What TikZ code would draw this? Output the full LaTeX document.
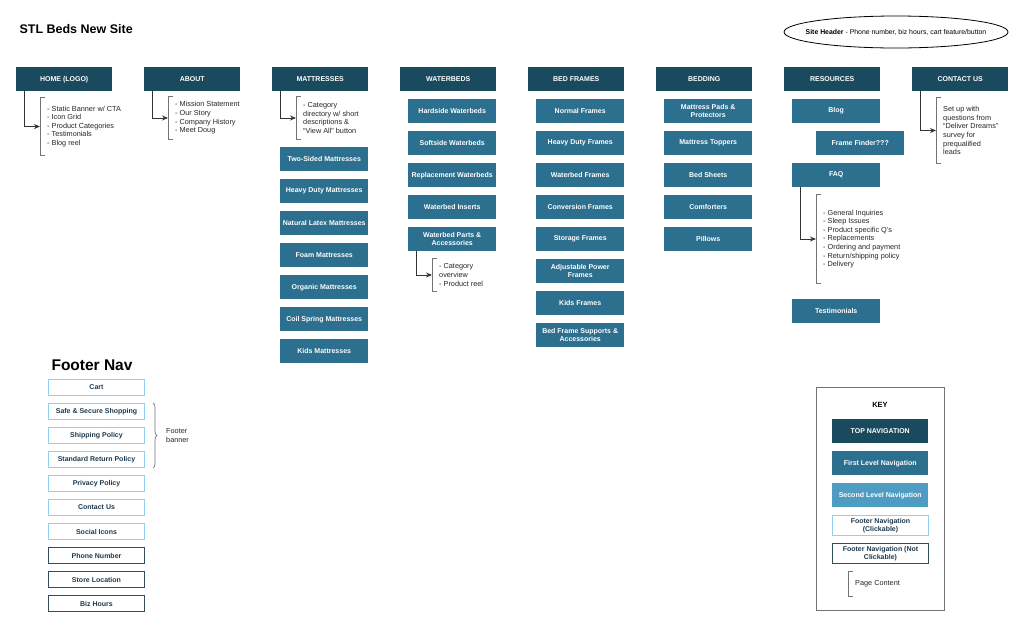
\documentclass[tikz,border=0pt]{standalone}
\usepackage{fontspec}
\setmainfont{Liberation Sans}
\usetikzlibrary{arrows.meta,positioning,shapes.geometric,decorations.pathreplacing}
\definecolor{topnav}{HTML}{1A4A5E}
\definecolor{firstnav}{HTML}{2C6F8E}
\definecolor{secondnav}{HTML}{4E9CC2}
\definecolor{footclick}{HTML}{8FD0EE}
\definecolor{footfix}{HTML}{2D4F5E}
\definecolor{foottext}{HTML}{1E3A4F}
\tikzset{
  box/.style={anchor=north west, inner sep=1pt, align=center, font=\fontsize{7}{8.2}\selectfont\bfseries},
  topbox/.style={box, fill=topnav, text=white, minimum width=96pt, minimum height=24pt},
  firstbox/.style={box, fill=firstnav, text=white, minimum width=88pt, minimum height=24pt},
  secondbox/.style={box, fill=secondnav, text=white, minimum width=96pt, minimum height=24pt},
  clickbox/.style={box, draw=footclick, line width=1pt, text=foottext, minimum width=96pt, minimum height=16pt},
  fixbox/.style={box, draw=footfix, line width=1pt, text=foottext, minimum width=96pt, minimum height=16pt},
  note/.style={anchor=west, align=left, inner xsep=7pt, inner ysep=0pt, font=\fontsize{7.3}{8.6}\selectfont, text=black!85},
  brk/.style={draw=black!55, line width=1pt},
  link/.style={draw=black!80, line width=0.9pt, -{Stealth[length=6pt,width=5pt]}},
}
\begin{document}
\begin{tikzpicture}[x=1pt,y=-1pt]
\useasboundingbox[fill=white] (0,0) rectangle (1024,627);
% Title and header
\node[anchor=west, font=\fontsize{12.5}{14}\selectfont\bfseries] (title) at (16,29) {STL Beds New Site};
\node[inner sep=0pt, font=\fontsize{6.9}{8}\selectfont] (header) at (896,32) {\textbf{Site Header} - Phone number, biz hours, cart feature/button};
\draw[line width=0.8pt] (header.center) ellipse [x radius=112, y radius=16];
% Top navigation
\foreach \t/\n [count=\i from 0] in {HOME (LOGO)/home, ABOUT/about, MATTRESSES/matt, WATERBEDS/water, BED FRAMES/frames, BEDDING/bedding, RESOURCES/res, CONTACT US/contact}
  \node[topbox] (\n) at ({16+128*\i},67) {\t};
% First level
\foreach \t [count=\i from 0] in {Two-Sided Mattresses, Heavy Duty Mattresses, Natural Latex Mattresses, Foam Mattresses, Organic Mattresses, Coil Spring Mattresses, Kids Mattresses}
  \node[firstbox] (matt\i) at (280,{147+32*\i}) {\t};
\foreach \t [count=\i from 0] in {Hardside Waterbeds, Softside Waterbeds, Replacement Waterbeds, Waterbed Inserts, {Waterbed Parts \&\\Accessories}}
  \node[firstbox] (water\i) at (408,{99+32*\i}) {\t};
\foreach \t [count=\i from 0] in {Normal Frames, Heavy Duty Frames, Waterbed Frames, Conversion Frames, Storage Frames, {Adjustable Power\\Frames}, Kids Frames, {Bed Frame Supports \&\\Accessories}}
  \node[firstbox] (frames\i) at (536,{99+32*\i}) {\t};
\foreach \t [count=\i from 0] in {{Mattress Pads \&\\Protectors}, Mattress Toppers, Bed Sheets, Comforters, Pillows}
  \node[firstbox] (bedding\i) at (664,{99+32*\i}) {\t};
\node[firstbox] (blog) at (792,99) {Blog};
\node[firstbox] (finder) at (816,131) {Frame Finder???};
\node[firstbox] (faq) at (792,163) {FAQ};
\node[firstbox] (testi) at (792,299) {Testimonials};
% Page content notes
\node[note, minimum height=57pt] (homeTxt) at (40,126.5) {- Static Banner w/ CTA\\- Icon Grid\\- Product Categories\\- Testimonials\\- Blog reel};
\node[note, minimum height=42pt] (aboutTxt) at (168,118) {- Mission Statement\\- Our Story\\- Company History\\- Meet Doug};
\node[note, minimum height=42pt] (mattTxt) at (296,118) {- Category\\directory w/ short\\descriptions \&\\``View All'' button};
\node[note, minimum height=32pt] (waterTxt) at (432,275) {- Category\\overview\\- Product reel};
\node[note, minimum height=88pt] (faqTxt) at (816,239) {- General Inquiries\\- Sleep Issues\\- Product specific Q's\\- Replacements\\- Ordering and payment\\- Return/shipping policy\\- Delivery};
\node[note, minimum height=65pt] (contactTxt) at (936,130.5) {Set up with\\questions from\\``Deliver Dreams''\\survey for\\prequalified\\leads};
\foreach \n in {homeTxt, aboutTxt, mattTxt, waterTxt, faqTxt, contactTxt}
  \draw[brk] ([xshift=5pt]\n.north west) -| (\n.south west) -- ++(5,0);
\draw[link] ([xshift=8pt]home.south west) |- (homeTxt.west);
\draw[link] ([xshift=8pt]about.south west) |- (aboutTxt.west);
\draw[link] ([xshift=8pt]matt.south west) |- (mattTxt.west);
\draw[link] ([xshift=8pt]water4.south west) |- (waterTxt.west);
\draw[link] ([xshift=8pt]faq.south west) |- (faqTxt.west);
\draw[link] ([xshift=8pt]contact.south west) |- (contactTxt.west);
% Footer nav
\node[anchor=west, font=\fontsize{15.5}{17}\selectfont\bfseries] (footer) at (48,365) {Footer Nav};
\foreach \t [count=\i from 0] in {Cart, Safe \& Secure Shopping, Shipping Policy, Standard Return Policy, Privacy Policy, Contact Us, Social Icons}
  \node[clickbox] (foot\i) at (48,{379+24*\i}) {\t};
\foreach \t [count=\i from 7] in {Phone Number, Store Location, Biz Hours}
  \node[fixbox] (foot\i) at (48,{379+24*\i}) {\t};
\draw[brk, line width=0.7pt, decorate, decoration={brace, amplitude=4pt}] ([xshift=8pt]foot1.north east) -- ([xshift=8pt]foot3.south east) coordinate[midway] (braceMid);
\node[note, inner xsep=0pt] (banner) at ([xshift=13pt]braceMid) {Footer\\banner};
% Key
\node[draw=black!55, line width=1pt, anchor=north west, minimum width=128pt, minimum height=223pt] (keyBox) at (816,387) {};
\node[font=\fontsize{7.5}{8.6}\selectfont\bfseries] (keyTitle) at (880,405) {KEY};
\node[topbox] (keyTop) at (832,419) {TOP NAVIGATION};
\node[secondbox, fill=firstnav] (keyFirst) at (832,451) {First Level Navigation};
\node[secondbox] (keySecond) at (832,483) {Second Level Navigation};
\node[clickbox, minimum height=20pt] (keyClick) at (832,515) {Footer Navigation\\(Clickable)};
\node[fixbox, minimum height=20pt] (keyFix) at (832,543) {Footer Navigation (Not\\Clickable)};
\node[note, minimum height=24pt] (keyPage) at (848,584) {Page Content};
\draw[brk] ([xshift=5pt]keyPage.north west) -| (keyPage.south west) -- ++(5,0);
\end{tikzpicture}
\end{document}
